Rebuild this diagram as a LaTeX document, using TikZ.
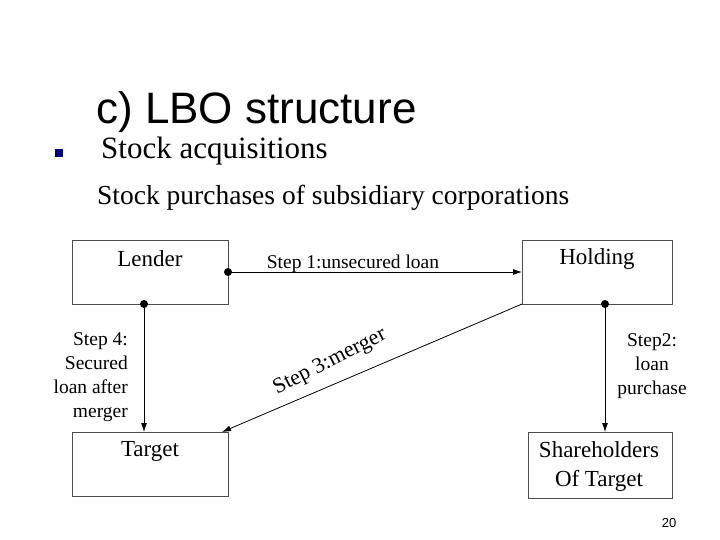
\documentclass[tikz,border=0pt]{standalone}
\usepackage{fontspec}
\setmainfont{Liberation Serif}
\newfontfamily\sans{Liberation Sans}
\usetikzlibrary{arrows.meta}
\begin{document}
\begin{tikzpicture}[x=1pt,y=-1pt,
  lbl/.style={inner sep=0pt},
  arr/.style={line width=0.8pt,-{Latex[length=9pt,width=6pt]}},
  dot/.style={circle,fill=black,inner sep=0pt,minimum size=8pt}]
\useasboundingbox (0,0) rectangle (720,540);
\node[anchor=west,inner sep=0pt,font=\sans\fontsize{44}{46}\selectfont] (title) at (96,112) {c) LBO structure};
\node[fill=blue!50!black,inner sep=0pt,minimum size=8pt] (bul) at (59,153) {};
\node[anchor=west,inner sep=0pt,font=\fontsize{31}{34}\selectfont] (sa) at (101,151) {Stock acquisitions};
\node[anchor=west,inner sep=0pt,font=\fontsize{27.5}{30}\selectfont] (sp) at (97,198) {Stock purchases of subsidiary corporations};
\draw[black!70,line width=0.8pt] (72,240) rectangle (228,304);
\draw[black!70,line width=0.8pt] (522,240) rectangle (672,304);
\draw[black!70,line width=0.8pt] (72,432) rectangle (228,496);
\draw[black!70,line width=0.8pt] (528,432) rectangle (672,498);
\node[lbl,font=\fontsize{23}{27}\selectfont] (lender) at (150,259) {Lender};
\node[lbl,font=\fontsize{23}{27}\selectfont] (holding) at (597,259) {Holding};
\node[lbl,font=\fontsize{23}{27}\selectfont] (target) at (150,451) {Target};
\node[lbl,font=\fontsize{23}{29}\selectfont,align=center] (share) at (599,466) {Shareholders\\Of Target};
\coordinate (l1) at (228,272); \coordinate (h1) at (522,272);
\node[dot] (d1) at (l1) {};
\draw[arr] (d1.center) -- (h1);
\node[lbl,font=\fontsize{19.5}{24}\selectfont] (s1) at (353,264) {Step 1:unsecured loan};
\coordinate (l4) at (144,304); \coordinate (t4) at (144,432);
\node[dot] (d4) at (l4) {};
\draw[arr] (d4.center) -- (t4);
\node[lbl,align=right,anchor=east,font=\fontsize{19.5}{24}\selectfont] (s4) at (128,377) {Step 4:\\Secured\\loan after\\merger};
\coordinate (h2) at (605,304); \coordinate (sh2) at (605,432);
\node[dot] (d2) at (h2) {};
\draw[arr] (d2.center) -- (sh2);
\node[lbl,align=center,font=\fontsize{19.5}{24}\selectfont] (s2) at (652,366) {Step2:\\loan\\purchase};
\coordinate (h3) at (522,304); \coordinate (t3) at (222,432);
\draw[arr] (h3) -- (t3);
\node[lbl,rotate=27,font=\fontsize{22}{24}\selectfont] (s3) at (330,362) {Step 3:merger};
\node[inner sep=0pt,font=\sans\fontsize{13}{14}\selectfont] (pg) at (669,523) {20};
\end{tikzpicture}
\end{document}
